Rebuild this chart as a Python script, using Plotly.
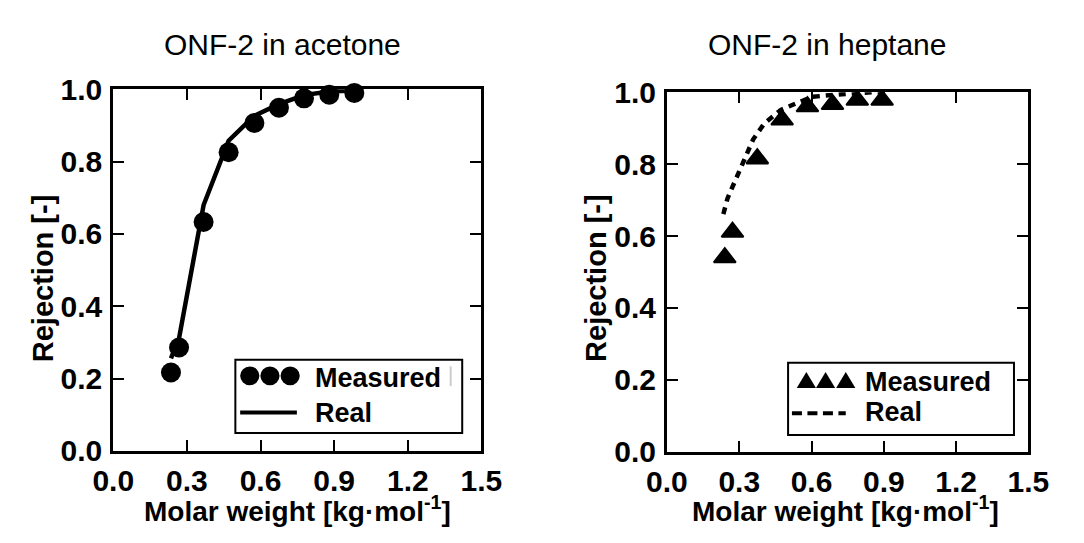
import plotly.graph_objects as go

W, H = 1084, 543

# ---- data ----
acetone_mw = [0.235, 0.268, 0.368, 0.470, 0.575, 0.675, 0.777, 0.880, 0.982]
acetone_measured = [0.217, 0.286, 0.633, 0.826, 0.907, 0.949, 0.975, 0.985, 0.990]
acetone_real = [0.256, 0.312, 0.680, 0.858, 0.927, 0.959, 0.984, 0.994, 0.997]

heptane_mw = [0.240, 0.272, 0.375, 0.478, 0.583, 0.687, 0.790, 0.893]
heptane_measured = [0.540, 0.611, 0.815, 0.923, 0.960, 0.966, 0.978, 0.978]
heptane_real_mw = [0.234, 0.251, 0.278, 0.308, 0.331, 0.358, 0.404, 0.471, 0.537, 0.604, 0.697, 0.777, 0.856, 0.893]
heptane_real = [0.661, 0.704, 0.746, 0.791, 0.830, 0.869, 0.913, 0.950, 0.969, 0.987, 0.993, 0.998, 1.000, 1.000]

x_ticks = [0.0, 0.3, 0.6, 0.9, 1.2, 1.5]
x_tick_labels = ["0.0", "0.3", "0.6", "0.9", "1.2", "1.5"]
y_ticks = [0.0, 0.2, 0.4, 0.6, 0.8, 1.0]
y_tick_labels = ["0.0", "0.2", "0.4", "0.6", "0.8", "1.0"]

titles = ["ONF-2 in acetone", "ONF-2 in heptane"]
x_title = "Molar weight [kg·mol<sup>-1</sup>]"
y_title = "Rejection [-]"
legend_labels = ["Measured", "Real"]

FONT = "Liberation Sans, Arial, sans-serif"


def px(x):
    return x / W


def py(y):
    return 1 - y / H


fig = go.Figure()

fig.add_trace(go.Scatter(x=acetone_mw, y=acetone_real, mode="lines", name=legend_labels[1],
                         line=dict(color="black", width=4.5), xaxis="x", yaxis="y", cliponaxis=False))
fig.add_trace(go.Scatter(x=acetone_mw, y=acetone_measured, mode="markers", name=legend_labels[0],
                         marker=dict(symbol="circle", size=20, color="black"), xaxis="x", yaxis="y",
                         cliponaxis=False))
fig.add_trace(go.Scatter(x=heptane_real_mw, y=heptane_real, mode="lines", name=legend_labels[1],
                         line=dict(color="black", width=4.5, dash="7px,6px"), xaxis="x2", yaxis="y2",
                         cliponaxis=False))
fig.add_trace(go.Scatter(x=heptane_mw, y=heptane_measured, mode="markers", name=legend_labels[0],
                         marker=dict(symbol="triangle-up", size=19, color="black",
                                     line=dict(color="black", width=2)),
                         xaxis="x2", yaxis="y2", cliponaxis=False))

axis_common = dict(showgrid=False, zeroline=False, showline=True, linecolor="black", linewidth=3,
                   mirror="ticks", ticks="inside", ticklen=11, tickwidth=2, tickcolor="black",
                   tickfont=dict(family=FONT, size=30, color="black", weight="bold"))

fig.update_layout(
    width=W, height=H,
    margin=dict(l=0, r=0, t=0, b=0),
    paper_bgcolor="white", plot_bgcolor="white",
    showlegend=False,
    xaxis=dict(domain=[px(96), px(479)], range=[0, 1.5], tickvals=x_ticks, ticktext=x_tick_labels,
               anchor="y", ticklabelstandoff=1, **axis_common),
    yaxis=dict(domain=[py(462), py(77)], range=[0, 1], tickvals=y_ticks, ticktext=y_tick_labels,
               anchor="x", ticklabelstandoff=2, **axis_common),
    xaxis2=dict(domain=[px(672), px(1048)], range=[0, 1.5], tickvals=x_ticks, ticktext=x_tick_labels,
                anchor="y2", ticklabelstandoff=1, **axis_common),
    yaxis2=dict(domain=[py(463), py(80)], range=[0, 1], tickvals=y_ticks, ticktext=y_tick_labels,
                anchor="x2", ticklabelstandoff=2, **axis_common),
)

ann = []
shapes = []

# titles
for t, cx in zip(titles, [272, 839]):
    ann.append(dict(text=t, x=px(cx), y=py(29), xref="paper", yref="paper", xanchor="center",
                    yanchor="middle", showarrow=False,
                    font=dict(family=FONT, size=30, color="black")))
# axis titles
for cx in [288, 858]:
    ann.append(dict(text=x_title, x=px(cx), y=py(524), xref="paper", yref="paper", xanchor="center",
                    yanchor="middle", showarrow=False,
                    font=dict(family=FONT, size=28, color="black", weight="bold")))
for cx in [23, 598]:
    ann.append(dict(text=y_title, x=px(cx), y=py(278), xref="paper", yref="paper", xanchor="center",
                    yanchor="middle", showarrow=False, textangle=-90,
                    font=dict(family=FONT, size=29, color="black", weight="bold")))

# ---- left legend ----
shapes.append(dict(type="rect", xref="paper", yref="paper", x0=px(223), x1=px(459), y0=py(443), y1=py(365),
                   line=dict(color="black", width=2), fillcolor="white", layer="above"))
for cx in [238, 259, 280]:
    shapes.append(dict(type="circle", xref="paper", yref="paper", x0=px(cx - 10), x1=px(cx + 10),
                       y0=py(392), y1=py(372), line=dict(width=0), fillcolor="black", layer="above"))
shapes.append(dict(type="line", xref="paper", yref="paper", x0=px(228), x1=px(287), y0=py(421), y1=py(421),
                   line=dict(color="black", width=4), layer="above"))
shapes.append(dict(type="line", xref="paper", yref="paper", x0=px(447), x1=px(447), y0=py(372), y1=py(393),
                   line=dict(color="#cccccc", width=2), layer="above"))
ann.append(dict(text="<b>%s</b>" % legend_labels[0], x=px(304), y=py(384), xref="paper", yref="paper",
                xanchor="left", yanchor="middle", showarrow=False,
                font=dict(family=FONT, size=27, color="black")))
ann.append(dict(text="<b>%s</b>" % legend_labels[1], x=px(304), y=py(422), xref="paper", yref="paper",
                xanchor="left", yanchor="middle", showarrow=False,
                font=dict(family=FONT, size=27, color="black")))

# ---- right legend ----
shapes.append(dict(type="rect", xref="paper", yref="paper", x0=px(798), x1=px(1033), y0=py(445), y1=py(368),
                   line=dict(color="black", width=2), fillcolor="white", layer="above"))
for cx in [817, 837, 858]:
    path = "M %f,%f L %f,%f L %f,%f Z" % (px(cx - 10), py(395), px(cx + 10), py(395), px(cx), py(378))
    shapes.append(dict(type="path", xref="paper", yref="paper", path=path, line=dict(width=0),
                       fillcolor="black", layer="above"))
shapes.append(dict(type="line", xref="paper", yref="paper", x0=px(802), x1=px(858), y0=py(422), y1=py(422),
                   line=dict(color="black", width=4, dash="10px,5.5px"), layer="above"))
ann.append(dict(text="<b>%s</b>" % legend_labels[0], x=px(876), y=py(389), xref="paper", yref="paper",
                xanchor="left", yanchor="middle", showarrow=False,
                font=dict(family=FONT, size=27, color="black")))
ann.append(dict(text="<b>%s</b>" % legend_labels[1], x=px(876), y=py(421), xref="paper", yref="paper",
                xanchor="left", yanchor="middle", showarrow=False,
                font=dict(family=FONT, size=27, color="black")))

fig.update_layout(annotations=ann, shapes=shapes)

fig.write_html("out.html")
